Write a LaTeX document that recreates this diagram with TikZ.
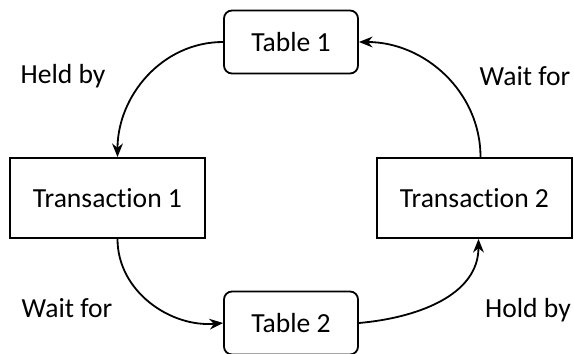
\documentclass[tikz,border=0pt]{standalone}
\usepackage{fontspec}
\setmainfont{Carlito}[Ligatures=NoCommon]
\usetikzlibrary{arrows.meta,positioning}
\tikzset{
  >={Stealth[length=2.4mm,width=1.9mm]},
  tbl/.style={draw,line width=0.9pt,rounded corners=4pt,fill=white,minimum width=67pt,minimum height=31.5pt,inner sep=1pt,font=\fontsize{13.8}{15}\selectfont},
  trans/.style={draw,line width=0.9pt,fill=white,minimum width=97.5pt,minimum height=40pt,inner sep=1pt,font=\fontsize{13.8}{15}\selectfont},
  lbl/.style={font=\fontsize{13.8}{15}\selectfont,inner sep=0pt},
  link/.style={->,line width=0.9pt},
}
\begin{document}
\begin{tikzpicture}[x=0.5pt,y=-0.5pt]
  \useasboundingbox (0,0) rectangle (574,354);
  \node[tbl] (tab1) at (291,42) {Table 1};
  \node[tbl] (tab2) at (291,323) {Table 2};
  \node[trans] (tr1) at (107.5,198) {Transaction 1};
  \node[trans] (tr2) at (474.5,198) {Transaction 2};
  \node[lbl] (held) at (63,76) {Held by};
  \node[lbl] (wait1) at (525,76) {Wait for};
  \node[lbl] (wait2) at (67,308) {Wait for};
  \node[lbl] (hold) at (528,310) {Hold by};
  \draw[link] (tab1.west) to[out=180,in=90] ([xshift=5pt]tr1.north);
  \draw[link] ([xshift=3pt]tr2.north) to[out=90,in=0] (tab1.east);
  \draw[link] ([xshift=5pt]tr1.south) to[out=-90,in=185] (tab2.west);
  \draw[link] (tab2.east) to[out=5,in=-90] ([xshift=2pt]tr2.south);
\end{tikzpicture}
\end{document}
